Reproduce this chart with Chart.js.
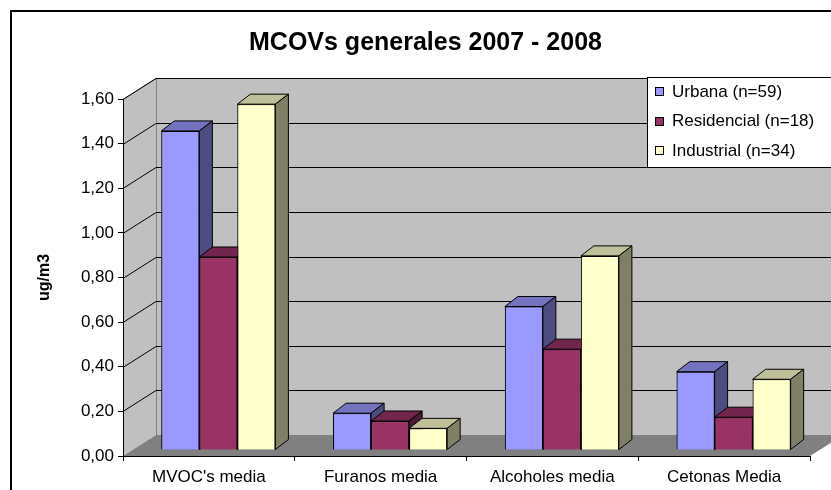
<!DOCTYPE html>
<html>
<head>
<meta charset="utf-8">
<script src="https://cdn.jsdelivr.net/npm/chart.js@4/dist/chart.umd.min.js"></script>
<style>
  body { margin: 0; background: #fff; }
  #grafica { display: block; }
</style>
</head>
<body>
<canvas id="grafica" width="831" height="490"></canvas>
<script>
// datos
var categorias = ["MVOC's media", "Furanos media", "Alcoholes media", "Cetonas Media"];
var series = ['Urbana (n=59)', 'Residencial (n=18)', 'Industrial (n=34)'];
var urbana = [1.43, 0.165, 0.643, 0.351];
var residencial = [0.865, 0.13, 0.452, 0.147];
var industrial = [1.55, 0.097, 0.87, 0.317];
var yMax = 1.6, yPaso = 0.2;

// colores: frente, techo, lado
var frente = ['#9999FF', '#993366', '#FFFFCC'];
var techo = ['#7373BF', '#73264D', '#BFBF99'];
var lado = ['#4D4D80', '#4D1A33', '#808066'];

var FUENTE = '"Liberation Sans", Arial, sans-serif';
var PROF = {x: 33, y: -21};   // fondo de la caja 3d
var BARRA = {x: 9.5, y: -6};  // plano de las barras
var GROSOR = {x: 13, y: -10}; // profundidad de cada barra

var fondo3d = {
  id: 'fondo3d',
  beforeDraw: function(chart) {
    var ctx = chart.ctx, a = chart.chartArea, y = chart.scales.y;
    ctx.save();
    ctx.fillStyle = '#fff';
    ctx.fillRect(0, 0, chart.width, chart.height);
    ctx.strokeStyle = '#000';
    ctx.lineWidth = 2;
    ctx.strokeRect(11, 11, chart.width + 20, chart.height + 20);

    // pared del fondo
    ctx.fillStyle = '#C0C0C0';
    ctx.fillRect(a.left + PROF.x, a.top + PROF.y, a.width + 10, a.height);
    // pared izquierda
    ctx.beginPath();
    ctx.moveTo(a.left, a.bottom);
    ctx.lineTo(a.left, a.top);
    ctx.lineTo(a.left + PROF.x, a.top + PROF.y);
    ctx.lineTo(a.left + PROF.x, a.bottom + PROF.y);
    ctx.closePath();
    ctx.fill();
    // piso
    ctx.fillStyle = '#808080';
    ctx.beginPath();
    ctx.moveTo(a.left, a.bottom);
    ctx.lineTo(a.right, a.bottom);
    ctx.lineTo(a.right + PROF.x, a.bottom + PROF.y);
    ctx.lineTo(a.left + PROF.x, a.bottom + PROF.y);
    ctx.closePath();
    ctx.fill();

    // bordes grises
    ctx.lineWidth = 1;
    ctx.strokeStyle = '#808080';
    ctx.beginPath();
    ctx.moveTo(a.left, a.top + 0.5);
    ctx.lineTo(a.left + PROF.x, a.top + PROF.y + 0.5);
    ctx.lineTo(chart.width + 20, a.top + PROF.y + 0.5);
    ctx.moveTo(a.left + PROF.x + 0.5, a.top + PROF.y);
    ctx.lineTo(a.left + PROF.x + 0.5, a.bottom + PROF.y);
    ctx.stroke();

    // lineas de division
    ctx.strokeStyle = '#000';
    ctx.beginPath();
    y.ticks.forEach(function(t) {
      if (t.value === 0) return;
      var py = Math.round(y.getPixelForValue(t.value)) + 0.5;
      ctx.moveTo(a.left, py);
      ctx.lineTo(a.left + PROF.x, py + PROF.y);
      ctx.lineTo(chart.width + 20, py + PROF.y);
    });
    ctx.stroke();
    ctx.restore();
  },
  beforeDatasetsDraw: function(chart) {
    chart.ctx.save();
    chart.ctx.translate(BARRA.x, BARRA.y);
  },
  afterDatasetsDraw: function(chart) {
    var ctx = chart.ctx;
    var n = chart.data.labels.length;
    for (var i = 0; i < n; i++) {
      for (var d = 0; d < chart.data.datasets.length; d++) {
        var el = chart.getDatasetMeta(d).data[i];
        el.draw(ctx);
        var p = el.getProps(['x', 'y', 'base', 'width'], true);
        var L = p.x - p.width / 2, R = p.x + p.width / 2, T = p.y, B = p.base;
        ctx.lineWidth = 1;
        ctx.strokeStyle = '#000';
        ctx.lineJoin = 'round';
        ctx.fillStyle = techo[d];
        ctx.beginPath();
        ctx.moveTo(L, T);
        ctx.lineTo(L + GROSOR.x, T + GROSOR.y);
        ctx.lineTo(R + GROSOR.x, T + GROSOR.y);
        ctx.lineTo(R, T);
        ctx.closePath();
        ctx.fill();
        ctx.stroke();
        ctx.fillStyle = lado[d];
        ctx.beginPath();
        ctx.moveTo(R, T);
        ctx.lineTo(R + GROSOR.x, T + GROSOR.y);
        ctx.lineTo(R + GROSOR.x, B + GROSOR.y);
        ctx.lineTo(R, B);
        ctx.closePath();
        ctx.fill();
        ctx.stroke();
      }
    }
    ctx.restore();
  },
  afterDraw: function(chart) {
    var ctx = chart.ctx;
    ctx.save();
    // leyenda
    ctx.fillStyle = '#fff';
    ctx.strokeStyle = '#000';
    ctx.lineWidth = 1;
    ctx.fillRect(647.5, 77.5, 200, 90);
    ctx.strokeRect(647.5, 77.5, 200, 90);
    ctx.font = '17px ' + FUENTE;
    ctx.textBaseline = 'middle';
    chart.data.datasets.forEach(function(ds, k) {
      var cy = 92 + k * 29.5;
      ctx.fillStyle = ds.backgroundColor;
      ctx.fillRect(655.5, Math.round(cy) - 4.5, 8, 8);
      ctx.strokeRect(655.5, Math.round(cy) - 4.5, 8, 8);
      ctx.fillStyle = '#000';
      ctx.fillText(ds.label, 672, cy);
    });
    ctx.restore();
  }
};

var grafica = new Chart(document.getElementById('grafica'), {
  type: 'bar',
  data: {
    labels: categorias,
    datasets: [
      {label: series[0], data: urbana, backgroundColor: frente[0]},
      {label: series[1], data: residencial, backgroundColor: frente[1]},
      {label: series[2], data: industrial, backgroundColor: frente[2]}
    ]
  },
  options: {
    responsive: false,
    animation: false,
    devicePixelRatio: 1,
    layout: {padding: {left: 41, right: 21, top: 20, bottom: 0}},
    datasets: {
      bar: {
        borderColor: '#000',
        borderWidth: 1,
        categoryPercentage: 0.664,
        barPercentage: 1,
        clip: false
      }
    },
    plugins: {
      legend: {display: false},
      tooltip: {enabled: false},
      title: {
        display: true,
        text: 'MCOVs generales 2007 - 2008',
        color: '#000',
        font: {family: FUENTE, size: 25, weight: 'bold'},
        padding: {top: 8, bottom: 41}
      }
    },
    scales: {
      x: {
        afterFit: function(s) { s.height = 34; },
        grid: {drawOnChartArea: false, color: '#000', tickLength: 5},
        border: {display: true, color: '#000', width: 1},
        ticks: {color: '#000', padding: 6, font: {family: FUENTE, size: 17}}
      },
      y: {
        min: 0,
        max: yMax,
        afterFit: function(s) { s.width = 82; },
        grid: {drawOnChartArea: false, color: '#000', tickLength: 5},
        border: {display: true, color: '#000', width: 1},
        ticks: {
          stepSize: yPaso,
          color: '#000',
          padding: 4,
          font: {family: FUENTE, size: 17},
          callback: function(v) { return v.toFixed(2).replace('.', ','); }
        },
        title: {
          display: true,
          text: 'ug/m3',
          color: '#000',
          font: {family: FUENTE, size: 16, weight: 'bold'},
          padding: {top: -5.6, bottom: 0}
        }
      }
    }
  },
  plugins: [fondo3d]
});
</script>
</body>
</html>
